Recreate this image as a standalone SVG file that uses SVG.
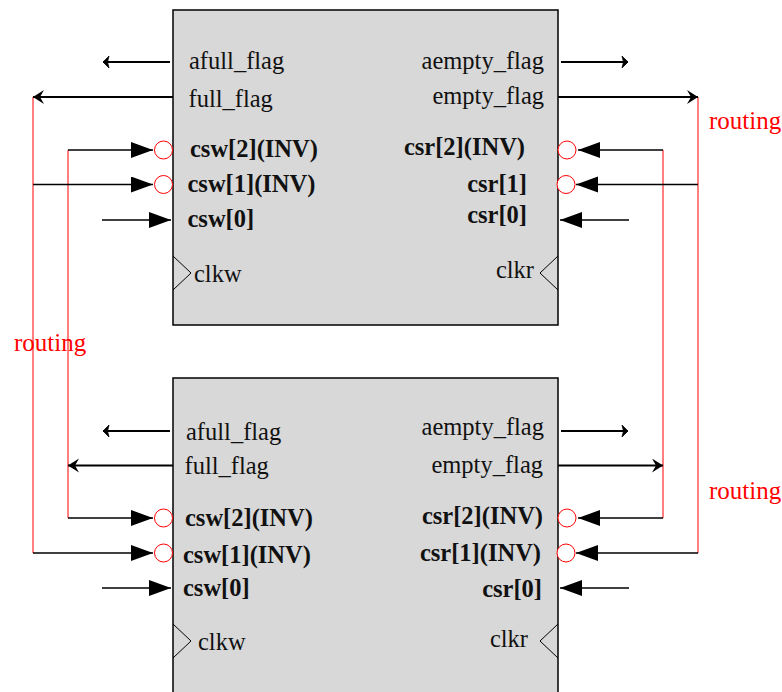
<svg xmlns="http://www.w3.org/2000/svg" width="782" height="692" viewBox="0 0 782 692">
<style>
text{font-family:"Liberation Serif","Times New Roman",serif;font-size:24.5px;fill:#111}
.b{font-weight:bold}
.r{text-anchor:end}
.red{fill:#f00;font-size:25px}
.box{fill:#d8d8d8;stroke:#000;stroke-width:1.5}
.clk{fill:none;stroke:#000;stroke-width:1}
.inv{fill:#fff;stroke:#f00;stroke-width:1}
.rl{fill:none;stroke:#f00;stroke-width:1}
.w{fill:none;stroke:#000;stroke-width:1.5}
.f{fill:none;stroke:#000;stroke-width:2}
</style>
<defs>
<marker id="big" markerUnits="userSpaceOnUse" markerWidth="24" markerHeight="18" refX="22" refY="8" orient="auto"><path d="M0 0L22 8L0 16Z" fill="#000"/></marker>
<marker id="small" markerUnits="userSpaceOnUse" markerWidth="10" markerHeight="14" refX="8" refY="6.5" orient="auto"><path d="M2 0.5L8 6.5L2 12.5L3.5 6.5Z" fill="#000" stroke="#000" stroke-width="0.8"/></marker>
<marker id="mid" markerUnits="userSpaceOnUse" markerWidth="14" markerHeight="16" refX="12" refY="7" orient="auto"><path d="M1 0L12 7L1 14L5 7Z" fill="#000"/></marker>
</defs>
<g id="block-top">
<rect class="box" x="173" y="10" width="385" height="315"/>
<path class="clk" d="M173 256L191 273L173 290"/>
<path class="clk" d="M558 256L540 273L558 290"/>
<text x="189" y="69">afull_flag</text>
<text x="188.5" y="107">full_flag</text>
<text class="b" x="190" y="157">csw[2](INV)</text>
<text class="b" x="187.5" y="192">csw[1](INV)</text>
<text class="b" x="187.5" y="227">csw[0]</text>
<text x="194" y="282">clkw</text>
<text class="r" x="544" y="69">aempty_flag</text>
<text class="r" x="544" y="104">empty_flag</text>
<text class="b r" x="525" y="155">csr[2](INV)</text>
<text class="b r" x="527" y="192">csr[1]</text>
<text class="b r" x="527" y="223">csr[0]</text>
<text class="r" x="534" y="278">clkr</text>
<circle class="inv" cx="163.5" cy="150" r="9"/>
<circle class="inv" cx="163.5" cy="184.5" r="9"/>
<circle class="inv" cx="567" cy="150" r="9"/>
<circle class="inv" cx="566" cy="184.5" r="9"/>
</g>
<g id="block-bottom">
<rect class="box" x="173" y="378" width="385" height="320"/>
<path class="clk" d="M173 624L191 641L173 658"/>
<path class="clk" d="M558 624L540 641L558 658"/>
<text x="186" y="440">afull_flag</text>
<text x="184.5" y="474">full_flag</text>
<text class="b" x="185" y="526">csw[2](INV)</text>
<text class="b" x="183" y="563">csw[1](INV)</text>
<text class="b" x="183" y="596">csw[0]</text>
<text x="198" y="650">clkw</text>
<text class="r" x="544" y="435">aempty_flag</text>
<text class="r" x="543" y="473">empty_flag</text>
<text class="b r" x="543" y="524">csr[2](INV)</text>
<text class="b r" x="541" y="561">csr[1](INV)</text>
<text class="b r" x="542" y="597">csr[0]</text>
<text class="r" x="528" y="647">clkr</text>
<circle class="inv" cx="163.5" cy="518" r="9"/>
<circle class="inv" cx="163.5" cy="553" r="9"/>
<circle class="inv" cx="567" cy="518" r="9"/>
<circle class="inv" cx="566" cy="553" r="9"/>
</g>
<g id="connectors">
<path class="rl" d="M33 97V553"/>
<path class="rl" d="M68 150V518"/>
<path class="rl" d="M663 150V518"/>
<path class="rl" d="M698 97V553"/>
<path class="f" marker-end="url(#small)" d="M170 62H103"/>
<path class="f" marker-end="url(#mid)" d="M173 97H33"/>
<path class="w" marker-end="url(#big)" d="M68 150H153"/>
<path class="w" marker-end="url(#big)" d="M33 184.5H153"/>
<path class="w" marker-end="url(#big)" d="M102 220H171"/>
<path class="f" marker-end="url(#small)" d="M561 62H628"/>
<path class="f" marker-end="url(#mid)" d="M558 97H698"/>
<path class="w" marker-end="url(#big)" d="M663 150H578"/>
<path class="w" marker-end="url(#big)" d="M698 184.5H576"/>
<path class="w" marker-end="url(#big)" d="M629 220H560"/>
<path class="f" marker-end="url(#small)" d="M170 431H103"/>
<path class="f" marker-end="url(#mid)" d="M173 465.5H68"/>
<path class="w" marker-end="url(#big)" d="M68 518H153"/>
<path class="w" marker-end="url(#big)" d="M33 553H153"/>
<path class="w" marker-end="url(#big)" d="M102 588H171"/>
<path class="f" marker-end="url(#small)" d="M561 431H628"/>
<path class="f" marker-end="url(#mid)" d="M558 465.5H663"/>
<path class="w" marker-end="url(#big)" d="M663 518H578"/>
<path class="w" marker-end="url(#big)" d="M698 553H576"/>
<path class="w" marker-end="url(#big)" d="M629 588H560"/>
</g>
<text class="red" x="14" y="351">routing</text>
<text class="red" x="709" y="129">routing</text>
<text class="red" x="709" y="499">routing</text>
</svg>
